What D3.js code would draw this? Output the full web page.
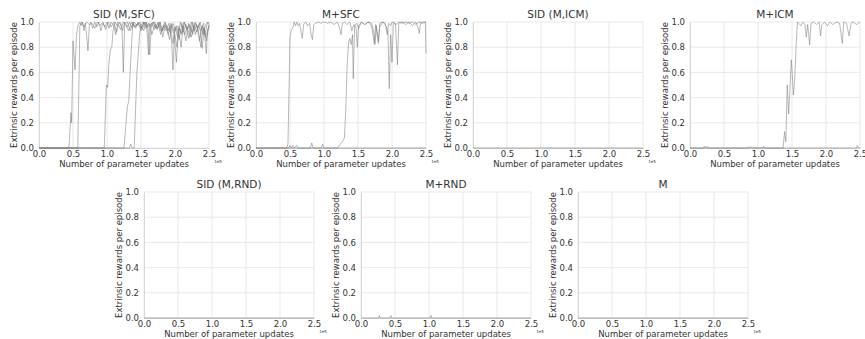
<!DOCTYPE html>
<html>
<head>
<meta charset="utf-8">
<script src="https://cdn.jsdelivr.net/npm/d3@7"></script>
<style>
  body { margin: 0; background: #fff; }
  text { font-family: "DejaVu Sans", sans-serif; fill: #333; }
</style>
</head>
<body>
<div id="chart"></div>
<script>
// values are in units of 1e5 parameter updates
const xTicks = [0, 0.5, 1.0, 1.5, 2.0, 2.5];
const yTicks = [0, 0.2, 0.4, 0.6, 0.8, 1.0];

const titles = ["SID (M,SFC)", "M+SFC", "SID (M,ICM)", "M+ICM", "SID (M,RND)", "M+RND", "M"];

const flatRun = [[0, 0], [2.5, 0]];

const sidSfcRuns = [
  [[0,0],[0.44,0],[0.46,0.18],[0.47,0.28],[0.48,0.2],[0.5,0.85],[0.52,0.7],[0.53,0.62],[0.55,0.88],[0.57,0.97],[0.6,1.0],[0.62,0.97],[0.64,1.0],[0.66,0.93],[0.68,0.99],[0.7,0.9],[0.72,0.77],[0.74,0.97],[0.76,1.0],[0.79,0.95],[0.82,1.0],[0.85,0.96],[0.88,1.0],[0.91,0.93],[0.94,0.99],[0.97,0.96],[1.0,1.0],[1.03,0.95],[1.06,1.0],[1.1,0.97],[1.13,0.9],[1.16,1.0],[1.2,0.98],[1.23,0.93],[1.26,1.0],[1.3,0.96],[1.33,1.0],[1.37,0.95],[1.4,1.0],[1.44,0.97],[1.48,1.0],[1.52,0.94],[1.56,1.0],[1.6,0.97],[1.63,0.74],[1.65,0.98],[1.7,1.0],[1.74,0.95],[1.78,1.0],[1.82,0.93],[1.86,0.99],[1.9,0.9],[1.93,0.97],[1.97,0.83],[2.0,0.96],[2.04,0.88],[2.08,1.0],[2.12,0.92],[2.16,0.98],[2.2,0.87],[2.24,1.0],[2.28,0.93],[2.32,0.98],[2.36,0.85],[2.4,0.97],[2.44,0.9],[2.48,1.0],[2.5,0.98]],
  [[0,0],[0.57,0],[0.59,0.6],[0.6,0.97],[0.63,1.0],[0.66,0.96],[0.7,1.0],[0.74,0.98],[0.78,0.99],[0.82,0.95],[0.86,1.0],[0.9,0.97],[0.94,1.0],[0.98,0.94],[1.02,1.0],[1.06,0.96],[1.1,1.0],[1.14,0.92],[1.17,0.98],[1.2,0.94],[1.24,1.0],[1.28,0.97],[1.32,0.93],[1.36,1.0],[1.4,0.96],[1.45,0.99],[1.5,0.95],[1.55,1.0],[1.6,0.96],[1.65,0.99],[1.7,0.94],[1.75,1.0],[1.8,0.92],[1.84,0.98],[1.88,0.95],[1.92,0.86],[1.95,0.98],[1.99,0.92],[2.03,0.8],[2.06,0.95],[2.1,0.9],[2.14,1.0],[2.18,0.95],[2.22,0.97],[2.26,0.9],[2.3,1.0],[2.34,0.94],[2.38,0.8],[2.41,0.96],[2.45,0.88],[2.5,0.97]],
  [[0,0],[0.96,0],[0.99,0.5],[1.01,0.48],[1.03,0.68],[1.05,0.78],[1.07,0.8],[1.09,0.93],[1.12,1.0],[1.15,0.97],[1.19,1.0],[1.22,0.96],[1.24,0.6],[1.26,0.98],[1.3,1.0],[1.34,0.93],[1.38,0.99],[1.42,0.95],[1.46,1.0],[1.5,0.97],[1.54,0.93],[1.58,1.0],[1.61,0.74],[1.63,0.97],[1.67,1.0],[1.71,0.95],[1.75,0.99],[1.79,0.9],[1.83,0.97],[1.87,0.93],[1.91,0.99],[1.95,0.85],[1.97,0.62],[1.99,0.9],[2.02,0.68],[2.05,0.95],[2.09,0.8],[2.12,0.97],[2.16,0.85],[2.2,0.99],[2.24,0.88],[2.28,0.97],[2.32,0.92],[2.36,0.99],[2.4,0.79],[2.43,0.95],[2.46,0.75],[2.48,0.93],[2.5,0.98]],
  [[0,0],[1.25,0],[1.28,0.2],[1.3,0.33],[1.32,0.37],[1.34,0.6],[1.36,0.8],[1.38,1.0],[1.42,0.96],[1.46,0.99],[1.5,0.93],[1.54,1.0],[1.58,0.96],[1.62,0.99],[1.66,0.9],[1.7,0.98],[1.74,0.94],[1.78,1.0],[1.82,0.88],[1.86,0.97],[1.9,0.93],[1.94,0.99],[1.98,0.91],[2.02,0.97],[2.06,0.86],[2.1,0.99],[2.14,0.9],[2.18,0.96],[2.22,0.88],[2.26,1.0],[2.3,0.9],[2.34,0.97],[2.38,0.93],[2.42,0.99],[2.46,0.85],[2.5,0.97]],
  [[0,0],[1.33,0],[1.35,0.03],[1.37,0],[1.4,0],[1.42,0.3],[1.44,0.6],[1.46,0.75],[1.48,0.9],[1.5,0.97],[1.53,1.0],[1.57,0.95],[1.61,0.99],[1.65,0.96],[1.69,1.0],[1.73,0.95],[1.77,0.98],[1.81,0.93],[1.85,1.0],[1.89,0.96],[1.93,0.92],[1.97,0.99],[2.01,0.93],[2.05,0.97],[2.09,0.91],[2.13,1.0],[2.17,0.94],[2.21,0.98],[2.25,0.92],[2.29,0.99],[2.33,0.95],[2.37,1.0],[2.41,0.9],[2.45,0.98],[2.5,1.0]]
];

const mSfcRuns = [
  [[0,0],[0.45,0],[0.47,0.03],[0.48,0.3],[0.5,0.88],[0.52,0.94],[0.54,0.95],[0.56,1.0],[0.58,0.97],[0.6,1.0],[0.62,0.97],[0.64,0.99],[0.66,0.93],[0.68,0.87],[0.7,0.98],[0.73,1.0],[0.76,0.97],[0.79,0.99],[0.81,0.9],[0.83,0.86],[0.85,0.98],[0.88,0.99],[0.92,1.0],[0.96,0.99],[1.0,1.0],[1.05,0.99],[1.1,1.0],[1.15,0.98],[1.2,1.0],[1.23,0.95],[1.25,0.9],[1.27,0.99],[1.3,1.0],[1.34,0.98],[1.38,1.0],[1.41,0.93],[1.44,0.98],[1.47,0.96],[1.49,0.8],[1.51,0.97],[1.55,1.0],[1.6,0.98],[1.65,1.0],[1.7,0.99],[1.73,0.93],[1.75,0.82],[1.77,0.97],[1.8,0.85],[1.82,0.96],[1.86,1.0],[1.9,0.99],[1.93,0.9],[1.95,0.99],[1.98,0.97],[2.0,1.0],[2.05,0.99],[2.08,0.66],[2.1,0.99],[2.15,1.0],[2.2,0.98],[2.25,1.0],[2.3,0.97],[2.35,1.0],[2.38,0.96],[2.4,0.91],[2.42,0.99],[2.46,1.0],[2.49,1.0],[2.5,0.75]],
  [[0,0],[0.48,0],[0.5,0.02],[0.52,0],[0.54,0.02],[0.56,0],[0.6,0.02],[0.62,0],[0.8,0],[0.82,0.04],[0.84,0],[0.96,0],[0.98,0.03],[1.0,0],[1.2,0],[1.24,0.03],[1.27,0.05],[1.3,0.08],[1.32,0.3],[1.34,0.65],[1.36,0.83],[1.38,0.87],[1.4,0.82],[1.42,0.9],[1.43,0.55],[1.45,0.97],[1.48,0.99],[1.51,0.95],[1.55,1.0],[1.6,0.98],[1.65,1.0],[1.7,0.97],[1.74,0.83],[1.76,0.98],[1.8,0.83],[1.82,0.99],[1.86,1.0],[1.9,0.98],[1.94,0.93],[1.96,0.47],[1.98,0.9],[2.0,0.68],[2.02,0.99],[2.06,0.98],[2.1,1.0],[2.15,0.99],[2.2,1.0],[2.25,0.99],[2.3,1.0],[2.35,0.98],[2.4,1.0],[2.45,0.99],[2.5,1.0]],
  flatRun
];

const sidIcmRuns = [flatRun];

const mIcmRuns = [
  [[0,0],[1.37,0],[1.39,0.13],[1.41,0.05],[1.43,0.5],[1.45,0.27],[1.47,0.47],[1.49,0.7],[1.5,0.62],[1.52,0.42],[1.54,0.55],[1.56,0.8],[1.58,1.0],[1.6,0.99],[1.63,0.97],[1.66,1.0],[1.69,0.98],[1.71,0.88],[1.73,0.98],[1.76,0.82],[1.78,0.99],[1.82,1.0],[1.86,0.98],[1.9,1.0],[1.92,0.89],[1.94,0.98],[1.98,1.0],[2.02,0.97],[2.06,1.0],[2.1,0.98],[2.15,1.0],[2.2,0.99],[2.24,0.83],[2.26,1.0],[2.3,0.99],[2.34,0.89],[2.37,0.99],[2.4,1.0],[2.45,0.98],[2.5,1.0]],
  [[0,0],[0.2,0],[0.21,0.015],[0.23,0],[0.25,0.015],[0.27,0],[0.84,0],[0.85,0.01],[0.87,0],[0.9,0.01],[0.92,0],[1.07,0],[1.08,0.015],[1.1,0],[2.45,0],[2.46,0.02],[2.48,0],[2.5,0]]
];

const sidRndRuns = [flatRun];

const mRndRuns = [
  [[0,0],[0.26,0],[0.27,0.02],[0.28,0],[0.43,0],[0.44,0.02],[0.45,0],[1.02,0],[1.03,0.02],[1.04,0],[2.5,0]]
];

const mRuns = [flatRun];

const allRuns = [sidSfcRuns, mSfcRuns, sidIcmRuns, mIcmRuns, sidRndRuns, mRndRuns, mRuns];

const W = 865, H = 339;
const pw = 170, ph = 126;
const lefts = [39, 256, 473, 690, 144, 361, 578];
const tops = [22, 22, 22, 22, 192, 192, 192];

const svg = d3.select("#chart").append("svg")
  .attr("width", W)
  .attr("height", H);

allRuns.forEach((runs, i) => {
  const g = svg.append("g")
    .attr("transform", `translate(${lefts[i]},${tops[i]})`);

  const x = d3.scaleLinear().domain([0, 2.5]).range([0, pw]);
  const y = d3.scaleLinear().domain([0, 1]).range([ph, 0]);

  // grid
  g.append("g")
    .selectAll("line.vg")
    .data(xTicks)
    .enter().append("line")
    .attr("x1", d => x(d)).attr("x2", d => x(d))
    .attr("y1", 0).attr("y2", ph)
    .attr("stroke", "#e3e3e3").attr("stroke-width", 0.8);
  g.append("g")
    .selectAll("line.hg")
    .data(yTicks)
    .enter().append("line")
    .attr("x1", 0).attr("x2", pw)
    .attr("y1", d => y(d)).attr("y2", d => y(d))
    .attr("stroke", "#e3e3e3").attr("stroke-width", 0.8);

  // axes
  const xAxis = g.append("g")
    .attr("transform", `translate(0,${ph})`)
    .call(d3.axisBottom(x).tickValues(xTicks).tickFormat(d3.format(".1f")).tickSize(0).tickPadding(3));
  const yAxis = g.append("g")
    .call(d3.axisLeft(y).tickValues(yTicks).tickFormat(d3.format(".1f")).tickSize(0).tickPadding(5));
  [xAxis, yAxis].forEach(a => {
    a.select(".domain").attr("stroke", "#cfcfcf").attr("stroke-width", 0.8);
    a.selectAll("text")
      .style("font-family", "'DejaVu Sans', sans-serif")
      .style("font-size", "8.5px")
      .attr("fill", "#333");
  });

  // runs
  const line = d3.line().x(d => x(d[0])).y(d => y(d[1]));
  g.selectAll("path.run")
    .data(runs)
    .enter().append("path")
    .attr("class", "run")
    .attr("d", line)
    .attr("fill", "none")
    .attr("stroke", "#777")
    .attr("stroke-opacity", 0.75)
    .attr("stroke-width", 0.7);

  g.append("text")
    .attr("x", pw / 2)
    .attr("y", -4)
    .attr("text-anchor", "middle")
    .style("font-size", "10.5px")
    .text(titles[i]);

  g.append("text")
    .attr("x", pw / 2)
    .attr("y", ph + 18.5)
    .attr("text-anchor", "middle")
    .style("font-size", "8.5px")
    .text("Number of parameter updates");

  g.append("text")
    .attr("transform", "rotate(-90)")
    .attr("x", -ph / 2)
    .attr("y", -22)
    .attr("text-anchor", "middle")
    .style("font-size", "8.5px")
    .text("Extrinsic rewards per episode");

  g.append("text")
    .attr("x", pw + 9)
    .attr("y", ph + 15)
    .attr("text-anchor", "middle")
    .style("font-size", "4px")
    .attr("fill", "#666")
    .text("1e5");
});
</script>
</body>
</html>
